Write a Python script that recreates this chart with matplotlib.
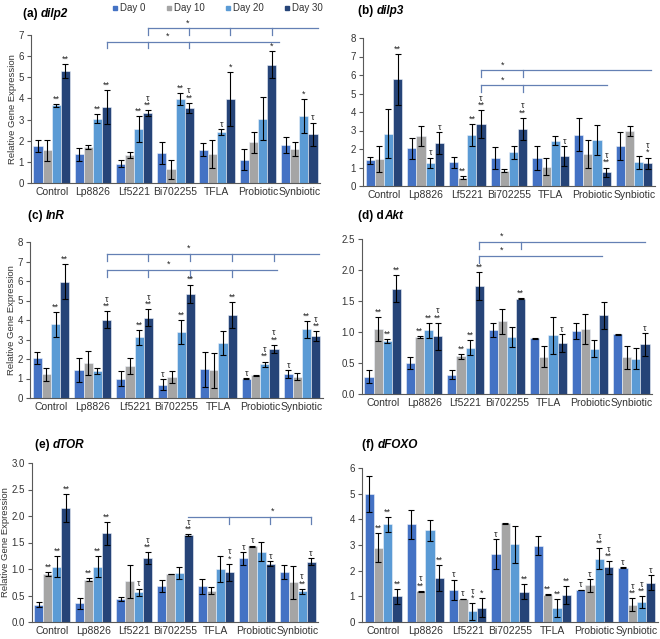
import matplotlib.pyplot as plt
from matplotlib.lines import Line2D
import numpy as np

plt.rcParams['font.family'] = ['Liberation Sans', 'DejaVu Sans']

groups = ['Control', 'Lp8826', 'Lf5221', 'Bi702255', 'TFLA', 'Probiotic', 'Synbiotic']
days = ['Day 0', 'Day 10', 'Day 20', 'Day 30']
colors = ['#4472C4', '#A5A5A5', '#5B9BD5', '#264478']

# (a) dilp2 : rows = Day 0, 10, 20, 30
dilp2_mean = [[1.75, 1.35, 0.92, 1.42, 1.58, 1.10, 1.80],
              [1.55, 1.72, 1.33, 0.65, 1.37, 1.93, 1.62],
              [3.67, 3.05, 2.55, 3.97, 2.42, 3.05, 3.17],
              [5.30, 3.60, 3.30, 3.55, 3.97, 5.60, 2.30]]
dilp2_err = [[0.30, 0.30, 0.15, 0.50, 0.30, 0.50, 0.38],
             [0.50, 0.10, 0.13, 0.45, 0.65, 0.50, 0.33],
             [0.07, 0.20, 0.60, 0.30, 0.13, 1.03, 0.82],
             [0.35, 0.80, 0.13, 0.25, 1.27, 0.65, 0.55]]
dilp2_marks = [['', '', '', '', '', '', ''],
               ['', '', '', '', '', '', ''],
               ['**', '**', '**', '**', 'τ', '', '*'],
               ['**', '**', 'τ\n**', 'τ\n**', '*', '*', 'τ']]

# (b) dilp3
dilp3_mean = [[1.38, 2.03, 1.28, 1.52, 1.52, 2.78, 2.17],
              [1.45, 2.70, 0.45, 0.82, 1.05, 1.75, 2.97],
              [2.83, 1.25, 2.75, 1.83, 2.45, 2.50, 1.28],
              [5.78, 2.32, 3.35, 3.10, 1.62, 0.75, 1.22]]
dilp3_err = [[0.18, 0.57, 0.28, 0.60, 0.63, 0.90, 0.75],
             [0.72, 0.55, 0.08, 0.08, 0.45, 0.75, 0.25],
             [1.32, 0.28, 0.60, 0.35, 0.25, 0.80, 0.35],
             [1.38, 0.60, 0.75, 0.60, 0.55, 0.25, 0.32]]
dilp3_marks = [['', '', '', '', '', '', ''],
               ['', '', '**', '', '', '', ''],
               ['', 'τ', '**', '', '', '', ''],
               ['**', 'τ', 'τ\n**', 'τ\n**', 'τ', 'τ\n**', 'τ\n*']]

# (c) InR
inr_mean = [[2.05, 1.42, 0.98, 0.68, 1.48, 1.00, 1.22],
            [1.22, 1.78, 1.65, 1.07, 1.42, 1.17, 1.10],
            [3.78, 1.40, 3.12, 3.40, 2.82, 1.72, 3.52],
            [5.97, 4.02, 4.12, 5.35, 4.27, 2.52, 3.17]]
inr_err = [[0.33, 0.62, 0.38, 0.27, 0.90, 0.03, 0.20],
           [0.33, 0.62, 0.40, 0.30, 0.90, 0.02, 0.20],
           [0.65, 0.15, 0.38, 0.62, 0.60, 0.15, 0.45],
           [0.88, 0.42, 0.42, 0.47, 0.67, 0.22, 0.25]]
inr_marks = [['', '', '', 'τ', '', 'τ', 'τ'],
             ['', '', '', '', '', '', ''],
             ['**', '', '**', '**', '', 'τ\n**', '**'],
             ['**', 'τ\n**', 'τ\n**', '**', '**', 'τ\n**', 'τ\n**']]

# (d) dAkt
akt_mean = [[0.28, 0.50, 0.31, 1.03, 0.90, 1.02, 0.96],
            [1.05, 0.92, 0.61, 1.17, 0.60, 1.05, 0.59],
            [0.86, 1.03, 0.75, 0.92, 0.95, 0.73, 0.57],
            [1.70, 0.93, 1.74, 1.54, 0.82, 1.27, 0.80]]
akt_err = [[0.10, 0.09, 0.07, 0.11, 0.01, 0.13, 0.01],
           [0.19, 0.01, 0.04, 0.20, 0.17, 0.24, 0.19],
           [0.03, 0.12, 0.12, 0.16, 0.30, 0.14, 0.17],
           [0.22, 0.22, 0.22, 0.01, 0.15, 0.22, 0.18]]
akt_marks = [['', '', '', '', '', '', ''],
             ['**', '**', '**', '', '', '', ''],
             ['**', '**', '**', '', '', '', ''],
             ['**', 'τ\n**', '**', '**', 'τ', '', 'τ']]

# (e) dTOR
tor_mean = [[0.33, 0.35, 0.43, 0.68, 0.67, 1.20, 0.94],
            [0.91, 0.80, 0.77, 0.91, 0.59, 1.43, 0.75],
            [1.04, 1.04, 0.56, 0.93, 1.00, 1.33, 0.58],
            [2.15, 1.67, 1.21, 1.64, 0.94, 1.10, 1.14]]
tor_err = [[0.05, 0.10, 0.04, 0.12, 0.15, 0.12, 0.13],
           [0.04, 0.03, 0.31, 0.005, 0.07, 0.01, 0.31],
           [0.20, 0.20, 0.07, 0.11, 0.25, 0.18, 0.05],
           [0.27, 0.21, 0.11, 0.02, 0.16, 0.05, 0.07]]
tor_marks = [['', '', '', '', '', 'τ', ''],
             ['**', '**', '', '', '', 'τ', ''],
             ['**', '**', 'τ', '', '', '', 'τ\n**'],
             ['**', '**', 'τ\n**', 'τ\n**', 'τ\n*', 'τ', 'τ']]

# (f) dFOXO
foxo_mean = [[5.00, 3.80, 1.25, 2.65, 2.98, 1.25, 2.12],
             [2.90, 1.20, 0.90, 3.84, 1.07, 1.43, 0.68],
             [3.80, 3.57, 0.42, 3.02, 0.53, 2.47, 0.78],
             [1.00, 1.72, 0.55, 1.18, 1.07, 2.13, 1.53]]
foxo_err = [[0.70, 0.57, 0.40, 0.58, 0.38, 0.01, 0.01],
            [0.57, 0.02, 0.01, 0.01, 0.02, 0.25, 0.25],
            [0.30, 0.40, 0.33, 0.72, 0.35, 0.40, 0.22],
            [0.28, 0.50, 0.37, 0.30, 0.35, 0.25, 0.30]]
foxo_marks = [['', '', 'τ', 'τ', '', 'τ', 'τ'],
              ['**', 'τ\n**', 'τ', '', '**', 'τ', 'τ\n**'],
              ['**', '', 'τ\n*', '', '**', 'τ\n**', 'τ\n**'],
              ['**', '**', '*', '**', '**', 'τ\n**', 'τ']]

W, H = 660, 639
fig = plt.figure(figsize=(W / 100, H / 100), dpi=100)
w = 0.22
d30 = 1.5 * w
brk_color = '#6480B4'


def panel(box, mean, err, marks, ymax, step, head, ital, tpos, brackets,
          ylabel=True, dec=0):
    l, r, t, b = box
    ax = fig.add_axes([l / W, 1 - b / H, (r - l) / W, (b - t) / H])
    x = np.arange(len(groups))
    for i in range(4):
        xi = x + (i - 1.5) * w
        ax.bar(xi, mean[i], w, color=colors[i], edgecolor='#eef3fa', linewidth=0.4,
               yerr=err[i], error_kw=dict(ecolor='black', elinewidth=0.8,
                                          capsize=2.2, capthick=0.8))
        for xx, m, e, s in zip(xi, mean[i], err[i], marks[i]):
            if s:
                ax.text(xx, m + e + ymax * 0.002, s, ha='center', va='bottom',
                        fontsize=6.5, linespacing=0.7, color='#222222')
    tick = 0.045 * ymax
    for y, x0, x1, ticks, sx in brackets:
        ax.plot([x0 + d30, x1], [y, y], color=brk_color, lw=0.9, clip_on=False)
        for g in ticks:
            ax.plot([g + d30, g + d30], [y, y - tick], color=brk_color, lw=0.9,
                    clip_on=False)
        ax.text(sx, y + ymax * 0.006, '*', ha='center', va='bottom', fontsize=6.5,
                color='#222222', clip_on=False)
    ax.set_xlim(-0.5, 6.5)
    ax.set_ylim(0, ymax)
    yt = np.arange(0, ymax + step / 2, step)
    ax.set_yticks(yt)
    ax.set_yticklabels([f'{v:.{dec}f}' for v in yt])
    ax.set_xticks(x)
    ax.set_xticklabels(groups)
    for s in ['top', 'right']:
        ax.spines[s].set_visible(False)
    for s in ['left', 'bottom']:
        ax.spines[s].set_color('#595959')
        ax.spines[s].set_linewidth(0.8)
    ax.tick_params(axis='x', length=0, labelsize=7.5, pad=3, colors='#333333')
    ax.tick_params(axis='y', length=3, width=0.8, labelsize=7, pad=2,
                   colors='#595959', labelcolor='#333333')
    if ylabel:
        ax.set_ylabel('Relative Gene Expression', fontsize=6.8, color='#333333',
                      labelpad=1)
    tx, ty = tpos
    t1 = fig.text(tx / W, 1 - ty / H, head, fontsize=8.5, fontweight='bold',
                  va='center', ha='left')
    ax.annotate(ital, xy=(1, 0.5), xycoords=t1, va='center', ha='left',
                fontsize=8.5, fontweight='bold', fontstyle='italic')
    return ax


panel((31, 320, 35, 183), dilp2_mean, dilp2_err, dilp2_marks, 7, 1,
      '(a) ', 'dilp2', (23, 14),
      [(7.32, 2, 6.46, [2, 3, 4, 5], 3.3), (6.69, 1, 5.5, [1, 2, 3], 2.8)])
panel((363, 655, 38, 186), dilp3_mean, dilp3_err, dilp3_marks, 8, 1,
      '(b) ', 'dilp3', (358, 11),
      [(6.25, 2, 6.4, [2, 3], 2.85), (5.44, 2, 5.36, [2, 3], 2.85)], ylabel=False)
panel((30, 323, 242, 398), inr_mean, inr_err, inr_marks, 8, 1,
      '(c) ', 'InR', (28, 216),
      [(7.38, 1, 6.4, [1, 2, 3, 4, 5], 3.3), (6.58, 1, 5.4, [1, 2, 3, 4], 2.8)])
panel((362, 652, 239, 394), akt_mean, akt_err, akt_marks, 2.5, 0.5,
      '(d) d', 'Akt', (358, 216),
      [(2.45, 2, 6.33, [2, 3], 2.88), (2.23, 2, 5.3, [2], 2.88)],
      ylabel=False, dec=1)
panel((32, 318, 463, 622), tor_mean, tor_err, tor_marks, 3.0, 0.5,
      '(e) ', 'dTOR', (35, 445),
      [(1.99, 3, 6.33, [4, 5, 6], 5.38)], dec=1)
panel((362, 658, 468, 622), foxo_mean, foxo_err, foxo_marks, 6, 1,
      '(f) ', 'dFOXO', (362, 445), [], ylabel=False)

handles = [Line2D([], [], marker='s', ls='', color=c, markersize=3.2) for c in colors]
fig.legend(handles, days, loc='center', bbox_to_anchor=(217 / W, 1 - 8 / H),
           ncol=4, frameon=False, fontsize=7, handletextpad=0.1,
           columnspacing=2.0, handlelength=0.8, labelcolor='#333333')

fig.savefig('out.png', dpi=100)
